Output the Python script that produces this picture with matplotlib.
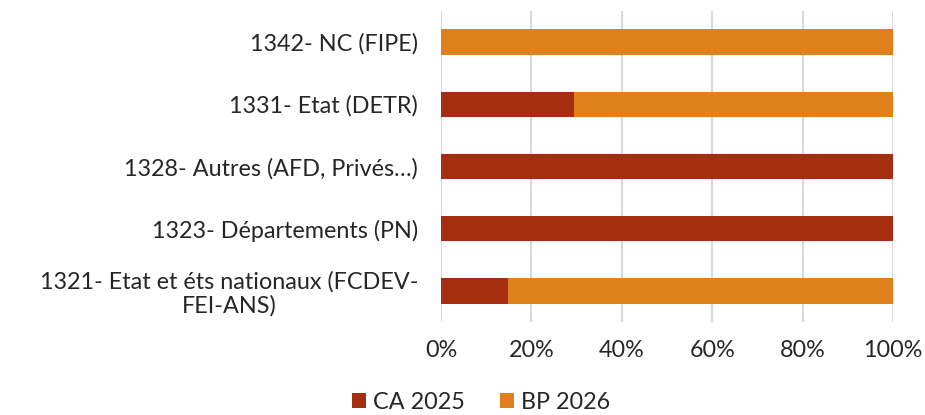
import matplotlib
matplotlib.use("Agg")
import matplotlib.pyplot as plt
from matplotlib.ticker import PercentFormatter

plt.rcParams["font.family"] = ["Lato", "DejaVu Sans"]

categories = [
    "1321- Etat et éts nationaux (FCDEV-\nFEI-ANS)",
    "1323- Départements (PN)",
    "1328- Autres (AFD, Privés…)",
    "1331- Etat (DETR)",
    "1342- NC (FIPE)",
]
ca_2025 = [14.8, 100, 100, 29.5, 0]
bp_2026 = [85.2, 0, 0, 70.5, 100]

fig = plt.figure(figsize=(9.25, 4.15), dpi=100)
ax = fig.add_axes([0.4768, 0.224, 0.4886, 0.7495])

y = range(len(categories))
ax.barh(y, ca_2025, height=0.41, color="#A62E10", label="CA 2025", zorder=3)
ax.barh(y, bp_2026, left=ca_2025, height=0.41, color="#E0801C", label="BP 2026", zorder=3)

ax.set_xlim(0, 100)
ax.set_ylim(-0.5, len(categories) - 0.5)
ax.set_xticks([0, 20, 40, 60, 80, 100])
ax.xaxis.set_major_formatter(PercentFormatter(decimals=0))
ax.set_yticks(list(y))
ax.set_yticklabels(categories, linespacing=1.1)
for lbl in ax.get_yticklabels():
    lbl.set_multialignment("center")

ax.tick_params(axis="both", length=0, labelsize=16.8, colors="#262626")
ax.tick_params(axis="x", pad=13)
ax.tick_params(axis="y", pad=16.5)
ax.grid(axis="x", color="#D9D9D9", linewidth=1.5, zorder=0)
for s in ax.spines.values():
    s.set_visible(False)

fig.legend(loc="lower center", bbox_to_anchor=(0.52, -0.045), ncol=2, frameon=False,
           fontsize=16.8, handlelength=0.6, handleheight=0.6, handletextpad=0.3,
           columnspacing=1.5, labelcolor="#262626")

fig.savefig("out.png", dpi=100)
